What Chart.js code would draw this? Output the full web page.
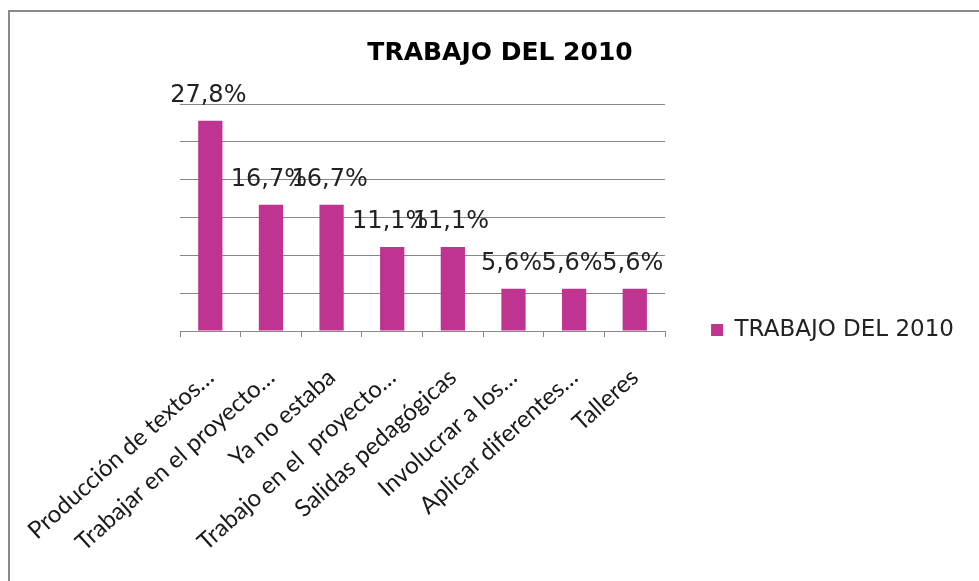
<!DOCTYPE html>
<html>
<head>
<meta charset="utf-8">
<script src="https://cdn.jsdelivr.net/npm/chart.js@4"></script>
<style>
  html, body { margin: 0; padding: 0; background: #fff; overflow: hidden; }
  #frame { position: absolute; left: 8px; top: 10px; width: 1100px; height: 800px; border: 2px solid #8a8a8a; }
  #wrap { position: absolute; left: 0; top: 0; width: 979px; height: 670px; }
</style>
</head>
<body>
<div id="frame"></div>
<div id="wrap"><canvas id="graphic"></canvas></div>
<script>
// data
const categories = [
    "Producción de textos…",
    "Trabajar en el proyecto…",
    "Ya no estaba",
    "Trabajo en el  proyecto…",
    "Salidas pedagógicas",
    "Involucrar a los…",
    "Aplicar diferentes…",
    "Talleres"
];
const seriesName = "TRABAJO DEL 2010";
const values = [27.8, 16.7, 16.7, 11.1, 11.1, 5.6, 5.6, 5.6];
const yMax = 30;
const yStep = 5;

const barColor = "#BF3391";

// value labels above each bar
const valueLabels = {
    id: "valueLabels",
    afterDatasetsDraw(chart) {
        const ctx = chart.ctx;
        const meta = chart.getDatasetMeta(0);
        ctx.save();
        ctx.font = "24px 'DejaVu Sans'";
        ctx.fillStyle = "#222";
        ctx.textAlign = "center";
        ctx.textBaseline = "bottom";
        meta.data.forEach((bar, i) => {
            const txt = values[i].toFixed(1).replace(".", ",") + "%";
            ctx.fillText(txt, bar.x - 2, bar.y - 13);
        });
        ctx.restore();
    }
};

const ctx = document.getElementById("graphic").getContext("2d");
const myChart = new Chart(ctx, {
    type: "bar",
    data: {
        labels: categories,
        datasets: [{
            label: seriesName,
            data: values,
            backgroundColor: barColor,
            borderWidth: 0,
            barPercentage: 0.4,
            categoryPercentage: 1
        }]
    },
    options: {
        responsive: true,
        maintainAspectRatio: false,
        animation: false,
        layout: { padding: { left: 36, right: 15, top: 0, bottom: 10 } },
        plugins: {
            title: {
                display: true,
                text: seriesName,
                color: "#000",
                font: { family: "'DejaVu Sans'", size: 25, weight: "bold", lineHeight: 1.2 },
                padding: { top: 38, bottom: 36 }
            },
            legend: {
                position: "right",
                maxWidth: 400,
                labels: {
                    boxWidth: 12,
                    boxHeight: 12,
                    padding: 46,
                    color: "#222",
                    font: { family: "'DejaVu Sans'", size: 23 }
                }
            },
            tooltip: { enabled: false }
        },
        scales: {
            x: {
                grid: { display: true, drawOnChartArea: false, tickLength: 6, color: "#888" },
                border: { display: true, color: "#888" },
                ticks: {
                    minRotation: 42,
                    maxRotation: 42,
                    autoSkip: false,
                    color: "#1a1a1a",
                    padding: 26,
                    font: { family: "Lato", size: 24 }
                },
                afterFit(scale) {
                    scale.height = 670 - 10 - 331;
                    scale.paddingLeft = 0;
                    scale.paddingRight = 0;
                }
            },
            y: {
                min: 0,
                max: yMax,
                ticks: { stepSize: yStep, display: false },
                grid: { color: "#888", tickLength: 0 },
                border: { display: false },
                afterFit(scale) { scale.width = 180 - 36; }
            }
        }
    },
    plugins: [valueLabels]
});
</script>
</body>
</html>
